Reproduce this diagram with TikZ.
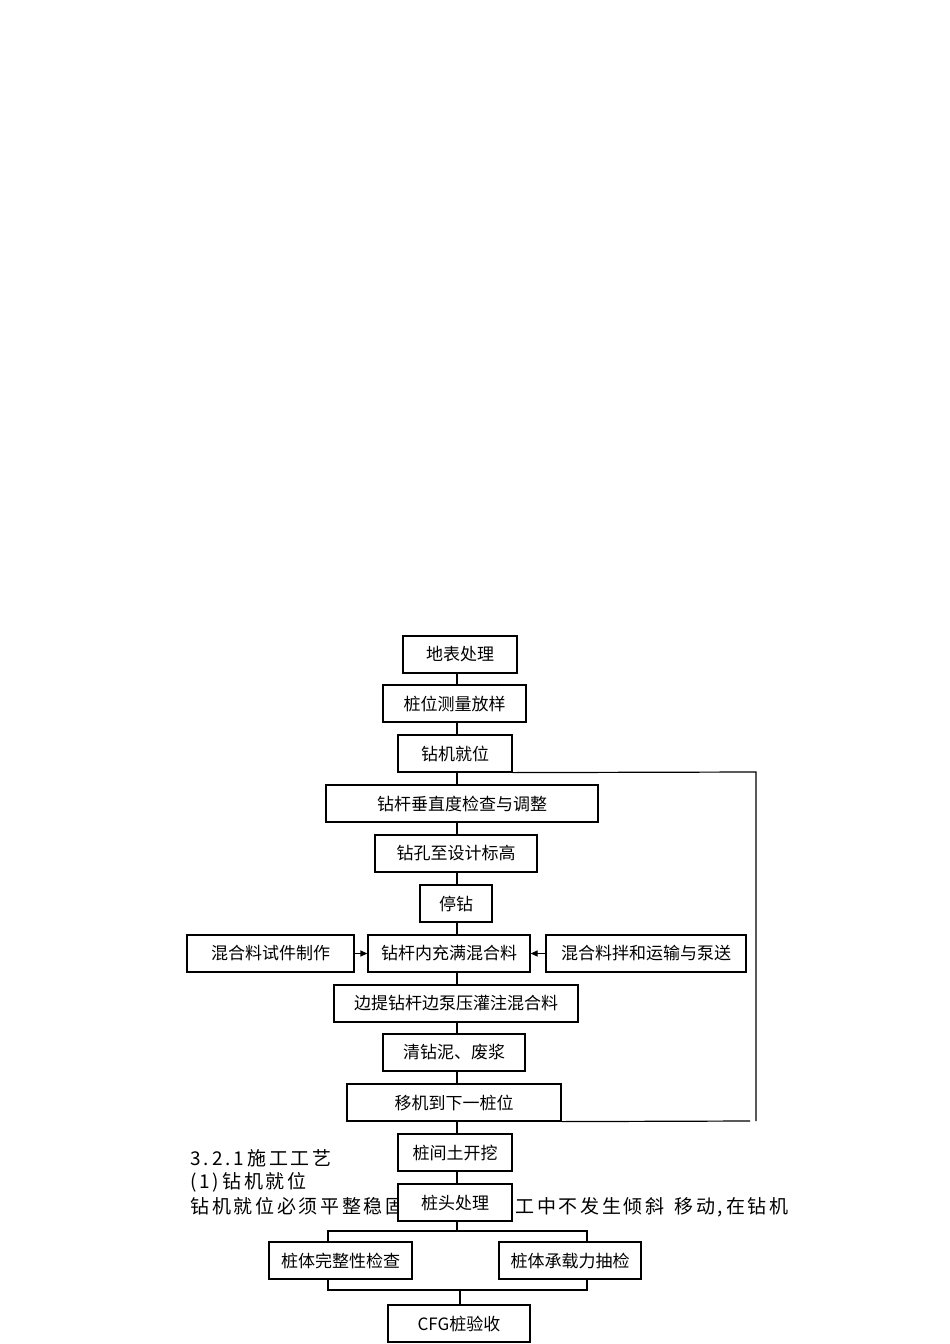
\documentclass[tikz,border=0pt]{standalone}
\usepackage{fontspec}
\setmainfont{Noto Sans CJK SC}
\usetikzlibrary{arrows.meta}
\begin{document}
\begin{tikzpicture}[x=1pt,y=-1pt,line width=1.2pt,
  bx/.style={draw,fill=white,inner sep=0pt,font=\fontsize{17}{20}\selectfont},
  bg/.style={anchor=west,inner sep=0pt,font=\fontsize{19}{22}\selectfont\addfontfeature{LetterSpace=14}}]
\useasboundingbox[fill=white] (0,0) rectangle (950,1344);
\newcommand{\bxat}[6]{\node[bx,minimum width=#4-#2,minimum height=#5-#3] (#1) at ({(#2+#4)/2},{(#3+#5)/2}) {#6};}
% background text
\node[bg] (t1) at (190,1158) {3.\,2.\,1\,施工工艺};
\node[bg] (t2) at (190,1182) {(1)\,钻机就位};
\node[bg] (t3) at (190,1207) {钻机就位必须平整稳固，确保在施工中不发生倾斜\, 移动,\,在钻机};
% lines
\draw (457,673) -- (457,1184);
\draw (457,1221) -- (457,1231);
\coordinate (sL) at (328,1231); \coordinate (sR) at (587,1231);
\draw (328,1242) -- (sL) -- (sR) -- (587,1242);
\draw (328,1279) -- (328,1290) -- (587,1290) -- (587,1279);
\draw (460,1290) -- (460,1305);
\bxat{b1}{403}{636}{517}{673}{地表处理}
\bxat{b2}{383}{685}{526}{722}{桩位测量放样}
\bxat{b3}{398}{735}{512}{772}{钻机就位}
\bxat{b4}{326}{785}{598}{822}{钻杆垂直度检查与调整\hspace{60pt}}
\bxat{b5}{375}{835}{537}{872}{钻孔至设计标高}
\bxat{b6}{420}{885}{492}{922}{停钻}
\bxat{b7}{187}{935}{354}{972}{混合料试件制作}
\bxat{b8}{368}{935}{530}{972}{钻杆内充满混合料}
\bxat{b9}{546}{935}{746}{972}{混合料拌和运输与泵送}
\bxat{b10}{334}{985}{578}{1022}{边提钻杆边泵压灌注混合料}
\bxat{b11}{383}{1034}{525}{1071}{清钻泥、废浆}
\bxat{b12}{347}{1084}{561}{1121}{移机到下一桩位}
\bxat{b13}{398}{1134}{512}{1171}{桩间土开挖}
\bxat{b14}{398}{1184}{512}{1221}{桩头处理}
\bxat{b15}{269}{1242}{412}{1279}{桩体完整性检查}
\bxat{b16}{499}{1242}{641}{1279}{桩体承载力抽检}
\bxat{b17}{388}{1305}{530}{1342}{CFG桩验收}
\coordinate (r1) at (756,772);
\coordinate (r2) at (756,1121);
\draw (b3.south east) -- (r1) -- (r2);
\draw (b12.south east) -- (750,1121);
\draw[-{Triangle[length=7pt,width=6pt]}] (b7.east) -- (b8.west);
\draw[-{Triangle[length=7pt,width=6pt]}] (b9.west) -- (b8.east);
\end{tikzpicture}
\end{document}
